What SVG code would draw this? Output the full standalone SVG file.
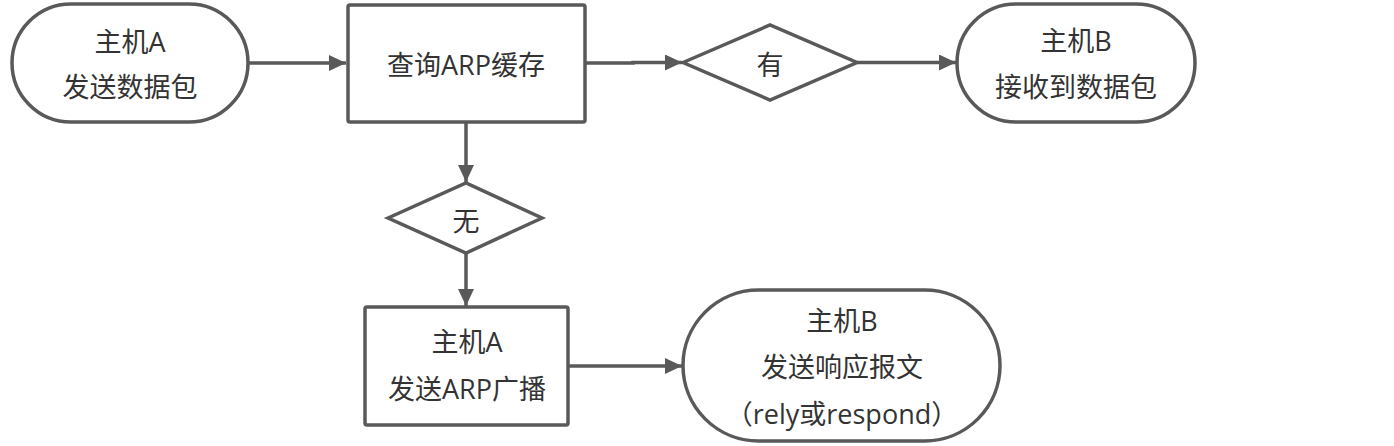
<svg xmlns="http://www.w3.org/2000/svg" width="1394" height="446" viewBox="0 0 1394 446">
<style>
.shape{fill:#ffffff;stroke:#595959;stroke-width:3.5;}
.txt{font-family:"Open Sans","Noto Sans CJK SC",sans-serif;font-size:27px;fill:#333333;text-anchor:middle;}
.conn{stroke:#595959;stroke-width:3.5;fill:none;marker-end:url(#arrow);}
</style>
<defs>
<marker id="arrow" markerUnits="userSpaceOnUse" markerWidth="18" markerHeight="16" refX="17" refY="8" orient="auto">
<path d="M0,0 L17,8 L0,16 Z" fill="#595959"/>
</marker>
</defs>
<rect width="1394" height="446" fill="#ffffff"/>
<g id="connectors">
<path class="conn" d="M248,63 L346,63"/>
<path class="conn" d="M585,63 L633,63 L633,62.5 L682,62.5"/>
<path class="conn" d="M857,62.5 L956,62.5"/>
<path class="conn" d="M466,122 L466,182"/>
<path class="conn" d="M466,253 L466,306"/>
<path class="conn" d="M568,366 L682,366"/>
</g>
<g id="node-a-send">
<rect class="shape" x="12" y="4" width="236" height="118" rx="59" ry="59"/>
<text class="txt" x="130" y="52">主机A</text>
<text class="txt" x="130" y="97">发送数据包</text>
</g>
<g id="node-query-arp">
<rect class="shape" x="348" y="5" width="237" height="117" rx="2"/>
<text class="txt" x="466" y="75">查询ARP缓存</text>
</g>
<g id="node-have">
<polygon class="shape" points="683,62.5 770,25 857,62.5 770,100"/>
<text class="txt" x="770" y="75">有</text>
</g>
<g id="node-b-receive">
<rect class="shape" x="957" y="4" width="238" height="118" rx="59" ry="59"/>
<text class="txt" x="1076" y="51">主机B</text>
<text class="txt" x="1076" y="97">接收到数据包</text>
</g>
<g id="node-none">
<polygon class="shape" points="388,218 466,183 542,218 466,253"/>
<text class="txt" x="466" y="231">无</text>
</g>
<g id="node-a-broadcast">
<rect class="shape" x="365" y="307" width="203" height="118" rx="2"/>
<text class="txt" x="467" y="352">主机A</text>
<text class="txt" x="467" y="399">发送ARP广播</text>
</g>
<g id="node-b-respond">
<rect class="shape" x="683" y="290" width="317" height="151" rx="75.5" ry="75.5"/>
<text class="txt" x="842" y="331">主机B</text>
<text class="txt" x="842" y="377">发送响应报文</text>
<text class="txt" x="842" y="424">（rely或respond）</text>
</g>
</svg>
